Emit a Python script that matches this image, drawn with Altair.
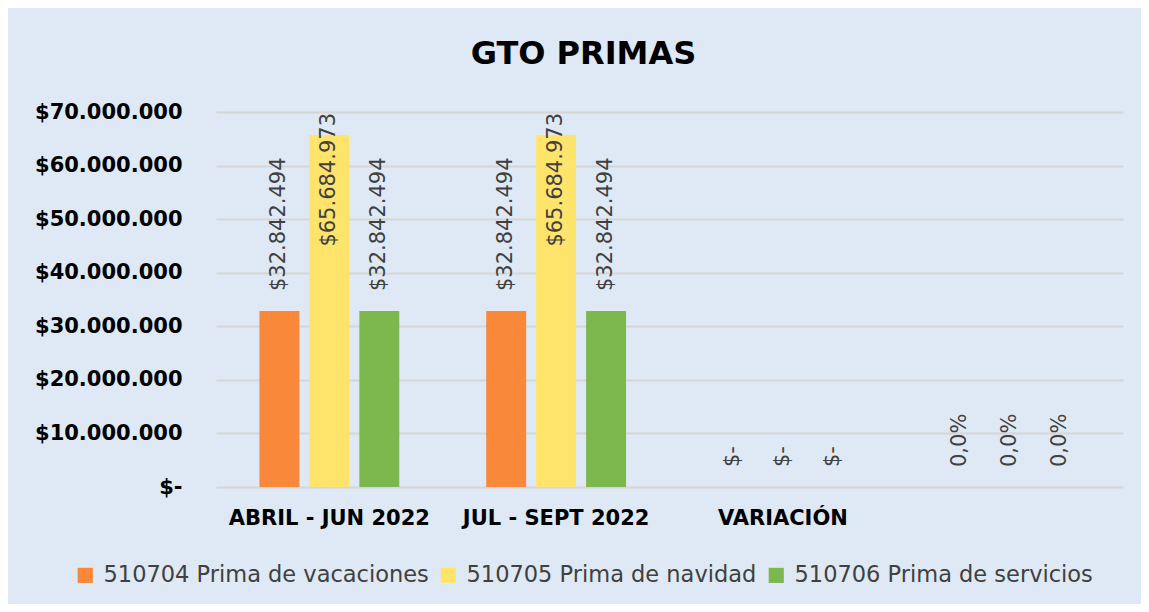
import altair as alt
import pandas as pd

# ---- data ----
categories = ["ABRIL - JUN 2022", "JUL - SEPT 2022", "VARIACIÓN", " "]
series_names = [
    "510704 Prima de vacaciones",
    "510705 Prima de navidad",
    "510706 Prima de servicios",
]
vacaciones = [32842494, 32842494, 0, 0]
navidad = [65684973, 65684973, 0, 0]
servicios = [32842494, 32842494, 0, 0]
vacaciones_labels = ["$32.842.494", "$32.842.494", "$-", "0,0%"]
navidad_labels = ["$65.684.973", "$65.684.973", "$-", "0,0%"]
servicios_labels = ["$32.842.494", "$32.842.494", "$-", "0,0%"]
y_ticks = [0, 10000000, 20000000, 30000000, 40000000, 50000000, 60000000, 70000000]
colors = ["#F9883A", "#FFE46B", "#7DB84F"]

rows = []
for s, vals, labs in zip(series_names,
                         [vacaciones, navidad, servicios],
                         [vacaciones_labels, navidad_labels, servicios_labels]):
    for c, v, l in zip(categories, vals, labs):
        rows.append({"categoria": c, "serie": s, "valor": v, "etiqueta": l})
df = pd.DataFrame(rows)

BG = "#DEE9F5"

x_enc = alt.X(
    "categoria:N",
    sort=categories,
    scale=alt.Scale(domain=categories, paddingInner=0, paddingOuter=0),
    axis=alt.Axis(
        title=None, labelAngle=0, ticks=False, domain=False, grid=False,
        labelFont="DejaVu Sans", labelFontWeight="bold", labelFontSize=21,
        labelColor="#000000", labelPadding=20, labelLimit=400,
    ),
)
xoff_enc = alt.XOffset(
    "serie:N",
    sort=series_names,
    scale=alt.Scale(domain=series_names, paddingInner=0.2, paddingOuter=0.87),
)
y_enc = alt.Y(
    "valor:Q",
    scale=alt.Scale(domain=[0, 70000000], nice=False),
    axis=alt.Axis(
        values=y_ticks, title=None, grid=True, gridColor="#D6D6D6", gridWidth=2,
        domain=False, ticks=False, tickSize=0, labelPadding=34,
        labelFont="DejaVu Sans", labelFontWeight="bold", labelFontSize=21,
        labelColor="#000000",
        labelExpr="datum.value == 0 ? '$-' : replace(format(datum.value, '$,.0f'), regexp(',', 'g'), '.')",
    ),
)

bars = alt.Chart().mark_bar().encode(
    x=x_enc,
    xOffset=xoff_enc,
    y=y_enc,
    color=alt.Color(
        "serie:N",
        sort=series_names,
        scale=alt.Scale(domain=series_names, range=colors),
        legend=alt.Legend(
            title=None, orient="none", legendX=-142, legendY=452,
            direction="horizontal", symbolType="square", symbolSize=230,
            symbolStrokeWidth=0, labelFont="DejaVu Sans", labelFontSize=22.5,
            labelColor="#404040", columnPadding=8, labelOffset=7,
            labelLimit=500,
        ),
    ),
)

text_low = alt.Chart().transform_filter("datum.valor <= 50000000").mark_text(
    angle=270, align="left", baseline="middle", dx=20,
    font="DejaVu Sans", fontSize=21, color="#404040",
).encode(
    x=alt.X("categoria:N", sort=categories),
    xOffset=alt.XOffset("serie:N", sort=series_names),
    y=alt.Y("valor:Q"),
    text="etiqueta:N",
)

text_high = alt.Chart().transform_filter("datum.valor > 50000000").mark_text(
    angle=270, align="right", baseline="middle", dx=-1,
    font="DejaVu Sans", fontSize=21, color="#404040",
).encode(
    x=alt.X("categoria:N", sort=categories),
    xOffset=alt.XOffset("serie:N", sort=series_names),
    y=alt.datum(70000000),
    text="etiqueta:N",
)

chart = alt.layer(bars, text_low, text_high, data=df).properties(
    width=907,
    height=375,
    title=alt.TitleParams(
        "GTO PRIMAS", font="DejaVu Sans", fontSize=32, fontWeight="bold",
        color="#000000", anchor="middle", dx=-86, offset=5,
        baseline="alphabetic",
    ),
    autosize=alt.AutoSizeParams(type="none"),
    padding={"left": 208, "top": 104, "right": 18, "bottom": 117},
).configure(
    background=BG,
).configure_view(
    stroke=None,
)

chart.save("out.html", embed_options={"renderer": "svg", "actions": False})
